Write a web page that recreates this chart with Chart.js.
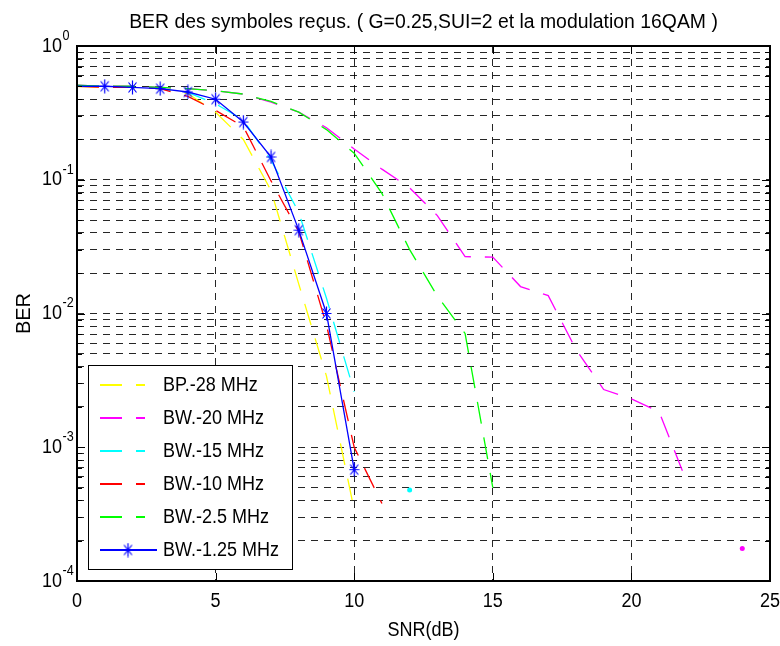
<!DOCTYPE html>
<html><head><meta charset="utf-8">
<script src="https://cdn.jsdelivr.net/npm/chart.js@4.4.1/dist/chart.umd.min.js"></script>
<style>html,body{margin:0;padding:0;background:#fff}#wrap{width:780px;height:646px}</style>
</head><body><div id="wrap"><canvas id="c" width="780" height="646"></canvas></div>
<script>
const chartTitle = 'BER des symboles reçus. ( G=0.25,SUI=2 et la modulation 16QAM )';
const xAxisTitle = 'SNR(dB)';
const yAxisTitle = 'BER';
const seriesLabels = ['BP.-28 MHz', 'BW.-20 MHz', 'BW.-15 MHz', 'BW.-10 MHz', 'BW.-2.5 MHz', 'BW.-1.25 MHz'];
const seriesColors = ['#ffff00', '#ff00ff', '#00ffff', '#ff0000', '#00ff00', '#0000ff'];

const snrBP28 = [0, 1, 2, 3, 4, 5, 6, 7, 8, 9, 10];
const berBP28 = [0.50, 0.49, 0.49, 0.48, 0.44, 0.32, 0.20, 0.083, 0.0166, 0.0034, 0.00034];

const snrBW20 = [0, 1, 2, 3, 4, 5, 6, 7, 8, 9, 10, 11, 12, 13, 14, 15, 16, 17, 18, 19, 20, 21, 22, 23, 24];
const berBW20 = [0.51, 0.50, 0.50, 0.49, 0.48, 0.462, 0.437, 0.38, 0.32, 0.245, 0.17, 0.12, 0.087, 0.054, 0.0266, 0.0264, 0.0159, 0.0136, 0.0054, 0.0027, 0.0023, 0.00184, 0.00055, null, 0.000175];

const snrBW15 = [0, 1, 2, 3, 4, 5, 6, 7, 8, 9, 10, 11, 12];
const berBW15 = [0.50, 0.50, 0.49, 0.48, 0.45, 0.37, 0.28, 0.14, 0.057, 0.013, 0.0026, null, 0.00048];

const snrBW10 = [0, 1, 2, 3, 4, 5, 6, 7, 8, 9, 10, 11];
const berBW10 = [0.50, 0.49, 0.49, 0.48, 0.42, 0.33, 0.25, 0.098, 0.041, 0.0082, 0.0010, 0.00038];

const snrBW2_5 = [0, 1, 2, 3, 4, 5, 6, 7, 8, 9, 10, 11, 12, 13, 14, 15];
const berBW2_5 = [0.51, 0.50, 0.50, 0.49, 0.48, 0.462, 0.437, 0.385, 0.32, 0.237, 0.158, 0.079, 0.030, 0.0135, 0.0071, 0.00050];

const snrBW1_25 = [0, 1, 2, 3, 4, 5, 6, 7, 8, 9, 10];
const berBW1_25 = [0.50, 0.50, 0.49, 0.48, 0.453, 0.40, 0.27, 0.148, 0.042, 0.0100, 0.00068];

const xTickValues = [0, 5, 10, 15, 20, 25];
const yDecadeExponents = [-4, -3, -2, -1, 0];
const yMinorMantissas = [1, 2, 3, 4, 5, 6, 7, 8, 9];

const snrSets = [snrBP28, snrBW20, snrBW15, snrBW10, snrBW2_5, snrBW1_25];
const berSets = [berBP28, berBW20, berBW15, berBW10, berBW2_5, berBW1_25];

const FONT = '"Liberation Sans", Arial, Helvetica, sans-serif';
const HSCALE = 0.9;

function makeStar(color) {
  const c = document.createElement('canvas');
  c.width = 11; c.height = 15;
  const g = c.getContext('2d');
  g.strokeStyle = color; g.lineWidth = 1.2;
  g.beginPath();
  g.moveTo(5.5, 0.5); g.lineTo(5.5, 14.5);
  g.moveTo(0.5, 7.5); g.lineTo(10.5, 7.5);
  g.moveTo(1.5, 2.5); g.lineTo(9.5, 12.5);
  g.moveTo(9.5, 2.5); g.lineTo(1.5, 12.5);
  g.stroke();
  return c;
}
const starImg = makeStar('#0000ff');

function isIsolated(arr, i) {
  if (arr[i] == null) return false;
  const prev = i > 0 ? arr[i - 1] : null;
  const next = i < arr.length - 1 ? arr[i + 1] : null;
  return prev == null && next == null;
}

const datasets = seriesLabels.map((label, k) => {
  const isBlue = k === 5;
  const ber = berSets[k];
  return {
    label: label,
    data: snrSets[k].map((x, i) => ({ x: x, y: ber[i] })),
    borderColor: seriesColors[k],
    backgroundColor: seriesColors[k],
    borderWidth: 1.3,
    borderDash: isBlue ? [] : [22, 14],
    tension: 0,
    spanGaps: false,
    fill: false,
    order: 5 - k,
    pointStyle: isBlue ? starImg : 'circle',
    pointRadius: (ctx) => {
      const i = ctx.dataIndex;
      if (isBlue) return i === 0 ? 0 : 6;
      return isIsolated(ber, i) ? 2.5 : 0;
    },
    pointBorderWidth: 0,
    pointHoverRadius: 0
  };
});

function drawText(ctx, text, x, y, size, align, baseline, hs) {
  ctx.save();
  ctx.font = size + 'px ' + FONT;
  ctx.textAlign = align;
  ctx.textBaseline = baseline;
  ctx.fillStyle = '#000';
  ctx.translate(x, y);
  ctx.scale(hs, 1);
  ctx.fillText(text, 0, 0);
  ctx.restore();
}

const decorPlugin = {
  id: 'decor',
  afterDraw(chart) {
    const ctx = chart.ctx;
    const a = chart.chartArea;
    const xs = chart.scales.x, ys = chart.scales.y;
    ctx.save();
    // frame
    ctx.strokeStyle = '#000';
    ctx.lineWidth = 2;
    ctx.strokeRect(a.left, a.top, a.right - a.left, a.bottom - a.top);
    // ticks
    ctx.lineWidth = 1;
    ctx.beginPath();
    xTickValues.forEach(v => {
      const px = Math.round(xs.getPixelForValue(v)) + 0.5;
      ctx.moveTo(px, a.bottom); ctx.lineTo(px, a.bottom - 8);
      ctx.moveTo(px, a.top); ctx.lineTo(px, a.top + 8);
    });
    yDecadeExponents.forEach(e => {
      yMinorMantissas.forEach(m => {
        const v = m * Math.pow(10, e);
        if (v > 1) return;
        const py = Math.round(ys.getPixelForValue(v)) + 0.5;
        const len = m === 1 ? 8 : 5;
        ctx.moveTo(a.left, py); ctx.lineTo(a.left + len, py);
        ctx.moveTo(a.right, py); ctx.lineTo(a.right - len, py);
      });
    });
    ctx.stroke();
    // x tick labels
    xTickValues.forEach(v => {
      drawText(ctx, String(v), xs.getPixelForValue(v), a.bottom + 20, 20, 'center', 'middle', HSCALE);
    });
    // y tick labels
    yDecadeExponents.forEach(e => {
      const py = ys.getPixelForValue(Math.pow(10, e));
      drawText(ctx, '10', a.left - 15, py, 20, 'right', 'middle', HSCALE);
      drawText(ctx, e === 0 ? '0' : '-' + Math.abs(e), a.left - 14.5, py - 10, 14, 'left', 'middle', HSCALE);
    });
    // titles
    const cx = (a.left + a.right) / 2;
    drawText(ctx, chartTitle, cx, 22, 20, 'center', 'middle', 0.97);
    drawText(ctx, xAxisTitle, cx, a.bottom + 49, 20, 'center', 'middle', HSCALE);
    ctx.save();
    ctx.translate(24, (a.top + a.bottom) / 2);
    ctx.rotate(-Math.PI / 2);
    drawText(ctx, yAxisTitle, 0, 0, 20, 'center', 'middle', 1);
    ctx.restore();
    // legend
    const lx = 88.5, ly = 365.5, lw = 204, lh = 204;
    ctx.fillStyle = '#fff';
    ctx.fillRect(lx, ly, lw, lh);
    ctx.strokeStyle = '#000';
    ctx.lineWidth = 1;
    ctx.strokeRect(lx, ly, lw, lh);
    chart.data.datasets.forEach((ds, k) => {
      const ry = 385 + 33 * k;
      ctx.save();
      ctx.strokeStyle = ds.borderColor;
      ctx.lineWidth = 2;
      ctx.setLineDash(ds.borderDash);
      ctx.beginPath();
      ctx.moveTo(100, ry);
      ctx.lineTo(ds.borderDash.length ? 145 : 157, ry);
      ctx.stroke();
      ctx.restore();
      if (ds.pointStyle && typeof ds.pointStyle !== 'string') {
        ctx.drawImage(ds.pointStyle, 128 - 5.5, ry - 7.5);
      }
      drawText(ctx, ds.label, 163, ry, 20, 'left', 'middle', HSCALE);
    });
    ctx.restore();
  }
};

const gridColor = 'rgba(0,0,0,0.85)';
const yTickVals = [];
yDecadeExponents.forEach(e => yMinorMantissas.forEach(m => {
  const v = m * Math.pow(10, e);
  if (v <= 1) yTickVals.push(v);
}));

new Chart(document.getElementById('c'), {
  type: 'line',
  data: { datasets: datasets },
  options: {
    responsive: false,
    animation: false,
    events: [],
    layout: { padding: { left: 77, top: 46, right: 10, bottom: 65 } },
    plugins: { legend: { display: false }, title: { display: false }, tooltip: { enabled: false } },
    scales: {
      x: {
        type: 'linear', min: 0, max: 25,
        afterFit(s) { s.height = 0; },
        afterBuildTicks(s) { s.ticks = xTickValues.map(v => ({ value: v })); },
        ticks: { display: false },
        grid: { drawTicks: false, color: gridColor, lineWidth: 1 },
        border: { display: false, dash: [7, 6] }
      },
      y: {
        type: 'logarithmic', min: 1e-4, max: 1,
        afterFit(s) { s.width = 0; },
        afterBuildTicks(s) { s.ticks = yTickVals.map(v => ({ value: v })); },
        ticks: { display: false },
        grid: { drawTicks: false, color: gridColor, lineWidth: 1 },
        border: { display: false, dash: [7, 6] }
      }
    }
  },
  plugins: [decorPlugin]
});
</script>
</body></html>
